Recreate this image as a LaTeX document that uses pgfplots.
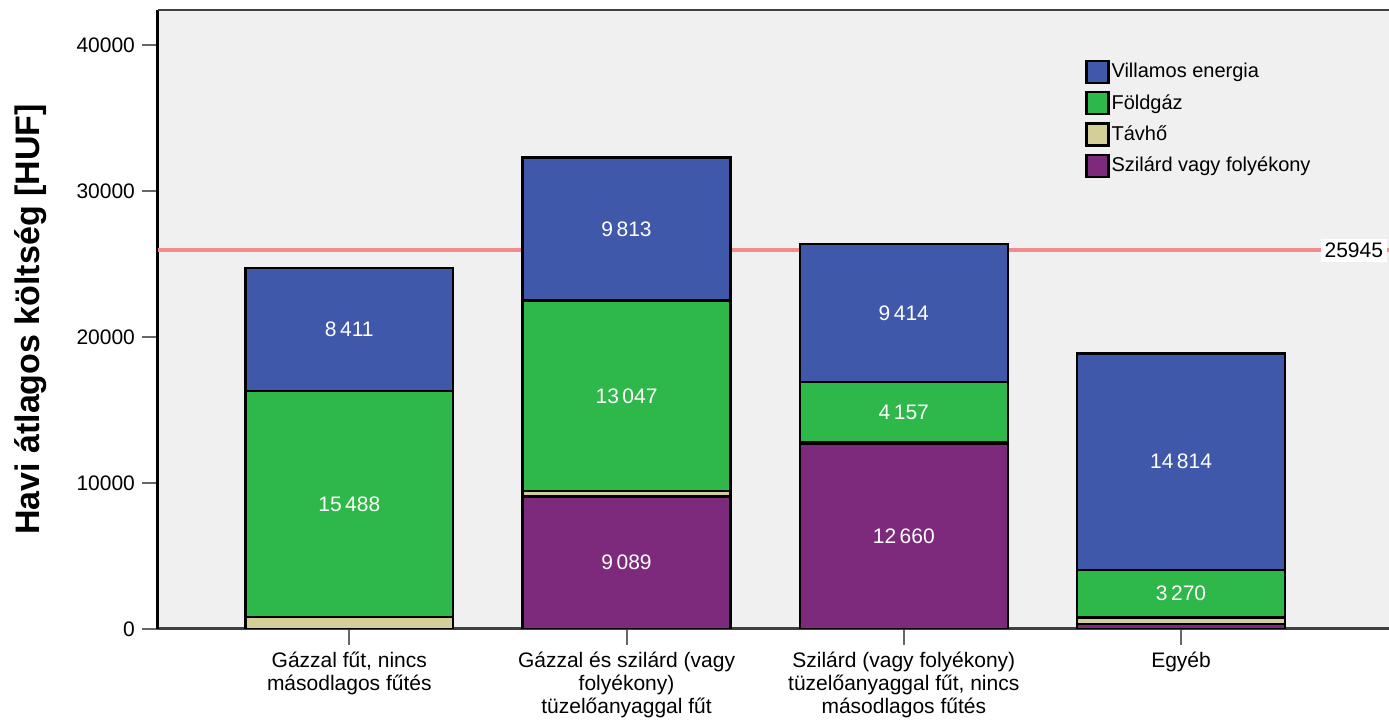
\documentclass[border=0pt]{standalone}
\usepackage{fontspec}
\setmainfont{Liberation Sans}
\usepackage{pgfplots}
\pgfplotsset{compat=1.18}

\definecolor{villamos}{HTML}{3F58A9}
\definecolor{foldgaz}{HTML}{2EB84A}
\definecolor{tavho}{HTML}{D4CE98}
\definecolor{szilard}{HTML}{7D2A7C}
\definecolor{refline}{HTML}{F08C8C}
\definecolor{plotbg}{HTML}{F0F0F0}

\pgfplotsset{
  sq legend/.style={legend image code/.code={
      \draw[##1, draw=black, line width=1.1pt] (0pt,-5.5pt) rectangle (11pt,5.5pt);}},
  segment/.style={draw=black, line width=1.2pt, sq legend,
    nodes near coords,
    point meta=explicit symbolic,
    every node near coord/.append style={anchor=center, text=white,
      font=\fontsize{10.5}{12}\selectfont}},
}

\begin{document}
\begin{tikzpicture}
\begin{axis}[
    at={(0,0)}, anchor=south west,
    width=615.5pt, height=309.5pt, scale only axis,
    ybar stacked, bar width=0.75,
    xmin=-0.69, xmax=3.75, ymin=0, ymax=42400,
    axis background/.style={fill=plotbg},
    axis x line=bottom, axis y line=left,
    x axis line style={-, draw=black!75, line width=1.5pt},
    y axis line style={-, draw=black, line width=1.5pt},
    xtick={0,1,2,3},
    xticklabels={{Gázzal fűt, nincs\\másodlagos fűtés},
                 {Gázzal és szilárd (vagy\\folyékony)\\tüzelőanyaggal fűt},
                 {Szilárd (vagy folyékony)\\tüzelőanyaggal fűt, nincs\\másodlagos fűtés},
                 {Egyéb}},
    xticklabel style={align=center, anchor=north, font=\fontsize{10.5}{11.5}\selectfont},
    ytick={0,10000,20000,30000,40000},
    scaled y ticks=false,
    yticklabel style={/pgf/number format/1000 sep={}, font=\fontsize{10.5}{12}\selectfont},
    /pgf/number format/assume math mode=true,
    tick align=outside, major tick length=8pt,
    tick style={draw=black!60, line width=1pt},
    ylabel={\fontsize{17}{20}\selectfont\bfseries Havi átlagos költség [HUF]},
    every axis y label/.style={at={(rel axis cs:0,0.5)}, xshift=-63.5pt, rotate=90, anchor=center},
    reverse legend,
    legend style={at={(0.753,0.920)}, anchor=north west, draw=none, fill=none,
      inner sep=0pt, row sep=3.5pt, font=\fontsize{10}{12}\selectfont,
      nodes={inner sep=1pt}},
    legend cell align=left,
]
\addplot[segment, fill=szilard] coordinates {
  (0,0) []
  (1,9089) [9\,089]
  (2,12660) [12\,660]
  (3,350) []
};
\addplot[segment, fill=tavho] coordinates {
  (0,820) []
  (1,360) []
  (2,120) []
  (3,430) []
};
\addplot[segment, fill=foldgaz] coordinates {
  (0,15488) [15\,488]
  (1,13047) [13\,047]
  (2,4157) [4\,157]
  (3,3270) [3\,270]
};
\addplot[segment, fill=villamos] coordinates {
  (0,8411) [8\,411]
  (1,9813) [9\,813]
  (2,9414) [9\,414]
  (3,14814) [14\,814]
};
\legend{Szilárd vagy folyékony, Távhő, Földgáz, Villamos energia}

\addplot[sharp plot, stack plots=false, draw=refline, line width=2pt, mark=none, forget plot]
  coordinates {(-0.69,25945) (3.75,25945)}
  node[pos=1, anchor=east, fill=white, text=black, inner sep=2pt,
       font=\fontsize{10.5}{12}\selectfont] {25945};

\draw[black!75, line width=1.5pt] (rel axis cs:0,1) -- (rel axis cs:1,1);
\end{axis}
\pgfresetboundingbox
\path (-79pt,-46pt) rectangle (615.5pt,314.5pt);
\end{tikzpicture}
\end{document}
